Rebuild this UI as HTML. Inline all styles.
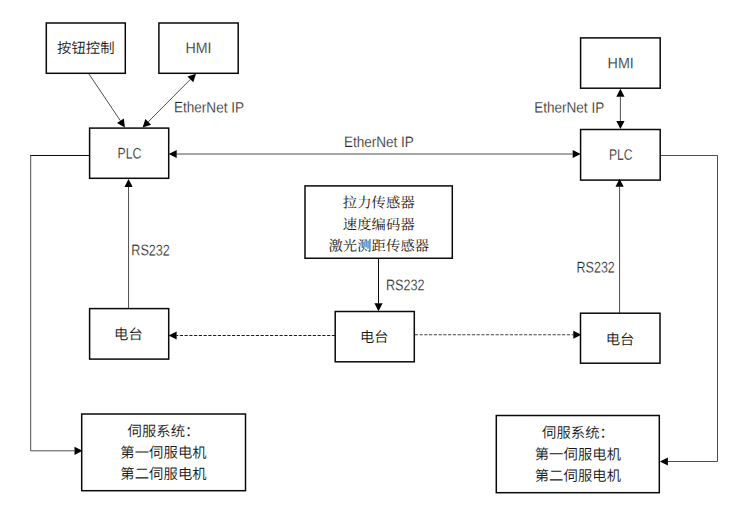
<!DOCTYPE html>
<html lang="zh-CN">
<head>
<meta charset="utf-8">
<title>系统结构框图</title>
<style>
  html,body{margin:0;padding:0;background:#fff;}
  body{width:753px;height:524px;overflow:hidden;}
  svg{display:block;}
  .box{fill:#fff;stroke:#0a0a0a;stroke-width:1.5;}
  .ln{fill:none;stroke:#222;stroke-width:0.8;}
  .dash{fill:none;stroke:#111;stroke-width:0.95;stroke-dasharray:3.2 1.55;}
  .lnb{stroke:#0c0c0c;stroke-width:1;}
  .d2{stroke:#222;stroke-width:0.85;}
  .ah{fill:#000;stroke:none;}
  text{font-family:"Liberation Sans","Noto Sans CJK SC",sans-serif;font-size:14.3px;letter-spacing:0.1px;font-weight:350;fill:#181818;text-anchor:middle;}
  .lat{font-size:15.1px;letter-spacing:0;font-weight:400;fill:#222;stroke:#fff;stroke-width:0.22px;}
  .rs{font-size:15.5px;}
  .serif{font-family:"Liberation Serif","Noto Serif CJK SC",serif;font-weight:400;fill:#1a1a1a;letter-spacing:0.1px;}
</style>
</head>
<body>
<svg xmlns="http://www.w3.org/2000/svg" width="753" height="524" viewBox="0 0 753 524">
  <rect x="0" y="0" width="753" height="524" fill="#fff"/>

  <g id="boxes">
    <rect class="box" x="46.30" y="23.00" width="79.00" height="50.30"/>
    <rect class="box" x="158.90" y="23.00" width="79.30" height="50.30"/>
    <rect class="box" x="89.60" y="128.10" width="79.10" height="50.20"/>
    <rect class="box" x="89.60" y="308.60" width="79.10" height="50.50"/>
    <rect class="box" x="305.00" y="185.90" width="147.30" height="72.35"/>
    <rect class="box" x="335.20" y="311.50" width="79.10" height="50.30"/>
    <rect class="box" x="580.60" y="37.90" width="79.60" height="50.30"/>
    <rect class="box" x="580.60" y="129.50" width="79.60" height="50.60"/>
    <rect class="box" x="580.50" y="313.20" width="79.50" height="50.00"/>
    <rect class="box" x="81.70" y="414.00" width="163.80" height="76.70"/>
    <rect class="box" x="496.30" y="415.50" width="163.00" height="77.20"/>
  </g>

  <g id="connectors">
    <!-- button box to PLC -->
    <line class="ln" x1="88.70" y1="73.60" x2="120.43" y2="120.76"/>
    <polygon class="ah" points="124.90,127.40 117.03,123.05 123.84,118.47"/>
    <!-- HMI and PLC, left side -->
    <line class="ln" x1="190.36" y1="79.38" x2="148.24" y2="121.82"/>
    <polygon class="ah" points="196.00,73.70 193.27,82.27 187.45,76.49"/>
    <polygon class="ah" points="142.60,127.50 145.33,118.93 151.15,124.71"/>
    <!-- PLC to PLC -->
    <line class="ln" x1="176.70" y1="154.00" x2="572.70" y2="154.00"/>
    <polygon class="ah" points="168.70,154.00 176.70,149.90 176.70,158.10"/>
    <polygon class="ah" points="580.70,154.00 572.70,158.10 572.70,149.90"/>
    <!-- HMI and PLC, right side -->
    <line class="ln" x1="620.40" y1="96.80" x2="620.40" y2="121.00"/>
    <polygon class="ah" points="620.40,88.80 624.50,96.80 616.30,96.80"/>
    <polygon class="ah" points="620.40,129.00 616.30,121.00 624.50,121.00"/>
    <!-- left radio to PLC -->
    <line class="ln" x1="128.55" y1="308.40" x2="128.55" y2="186.90"/>
    <polygon class="ah" points="128.55,178.90 132.65,186.90 124.45,186.90"/>
    <!-- right radio to PLC -->
    <line class="ln" x1="619.60" y1="313.00" x2="619.60" y2="186.80"/>
    <polygon class="ah" points="619.60,178.80 623.70,186.80 615.50,186.80"/>
    <!-- sensors to centre radio -->
    <line class="ln lnb" x1="378.50" y1="258.40" x2="378.50" y2="303.30"/>
    <polygon class="ah" points="378.50,311.30 374.40,303.30 382.60,303.30"/>
    <!-- dashed radio links -->
    <line class="dash" x1="335.00" y1="335.50" x2="176.60" y2="335.50"/>
    <polygon class="ah" points="168.60,335.50 176.60,331.40 176.60,339.60"/>
    <line class="dash d2" x1="414.80" y1="334.75" x2="573.30" y2="334.75"/>
    <polygon class="ah" points="581.30,334.75 573.30,338.85 573.30,330.65"/>
    <!-- PLC to servo, left -->
    <polyline class="ln" points="89.20,155.50 30.70,155.50 30.70,450.80 74.50,450.80"/>
    <polygon class="ah" points="82.50,450.80 74.50,454.90 74.50,446.70"/>
    <line class="ln lnb" x1="89.20" y1="155.50" x2="30.30" y2="155.50"/>
    <!-- PLC to servo, right -->
    <polyline class="ln" points="660.60,155.50 717.50,155.50 717.50,461.50 667.90,461.50"/>
    <polygon class="ah" points="659.90,461.50 667.90,457.40 667.90,465.60"/>
  </g>

  <g id="labels">
    <text transform="rotate(0.1 85.8 53.0)" x="85.8" y="53.0">按钮控制</text>
    <text class="lat" transform="rotate(0.1 198.5 53.0)" x="198.5" y="53.0" textLength="26.0" lengthAdjust="spacingAndGlyphs">HMI</text>
    <text class="lat" transform="rotate(0.1 129.4 158.4)" x="129.4" y="158.4" textLength="23.8" lengthAdjust="spacingAndGlyphs">PLC</text>
    <text class="lat" transform="rotate(0.1 209.0 112.4)" x="209.0" y="112.4" textLength="70.0" lengthAdjust="spacingAndGlyphs">EtherNet IP</text>
    <text class="lat" transform="rotate(0.1 378.9 147.0)" x="378.9" y="147.0" textLength="70.0" lengthAdjust="spacingAndGlyphs">EtherNet IP</text>
    <text class="lat" transform="rotate(0.1 569.2 112.6)" x="569.2" y="112.6" textLength="70.0" lengthAdjust="spacingAndGlyphs">EtherNet IP</text>
    <text class="lat" transform="rotate(0.1 620.7 68.3)" x="620.7" y="68.3" textLength="26.2" lengthAdjust="spacingAndGlyphs">HMI</text>
    <text class="lat" transform="rotate(0.1 620.7 159.8)" x="620.7" y="159.8" textLength="23.6" lengthAdjust="spacingAndGlyphs">PLC</text>
    <text class="lat rs" transform="rotate(0.1 150.6 255.4)" x="150.6" y="255.4" textLength="38.6" lengthAdjust="spacingAndGlyphs">RS232</text>
    <text class="lat rs" transform="rotate(0.1 405.2 290.2)" x="405.2" y="290.2" textLength="38.6" lengthAdjust="spacingAndGlyphs">RS232</text>
    <text class="lat rs" transform="rotate(0.1 595.7 272.6)" x="595.7" y="272.6" textLength="38.2" lengthAdjust="spacingAndGlyphs">RS232</text>
    <text transform="rotate(0.1 128.5 339.3)" x="128.5" y="339.3">电台</text>
    <text transform="rotate(0.1 374.3 342.0)" x="374.3" y="342.0">电台</text>
    <text transform="rotate(0.1 620.1 344.4)" x="620.1" y="344.4">电台</text>
    <text class="serif" transform="rotate(0.1 378.8 207.5)" x="378.8" y="207.5">拉力传感器</text>
    <text class="serif" transform="rotate(0.1 378.8 229.4)" x="378.8" y="229.4">速度编码器</text>
    <text class="serif" transform="rotate(0.1 378.8 250.8)" x="378.8" y="250.8">激光测距传感器</text>
    <text transform="rotate(0.1 163.5 436.2)" x="163.5" y="436.2">伺服系统：</text>
    <text transform="rotate(0.1 163.5 457.6)" x="163.5" y="457.6">第一伺服电机</text>
    <text transform="rotate(0.1 163.5 478.9)" x="163.5" y="478.9">第二伺服电机</text>
    <text transform="rotate(0.1 578.0 437.7)" x="578.0" y="437.7">伺服系统：</text>
    <text transform="rotate(0.1 577.9 459.4)" x="577.9" y="459.4">第一伺服电机</text>
    <text transform="rotate(0.1 577.9 480.8)" x="577.9" y="480.8">第二伺服电机</text>
  </g>
</svg>
</body>
</html>
